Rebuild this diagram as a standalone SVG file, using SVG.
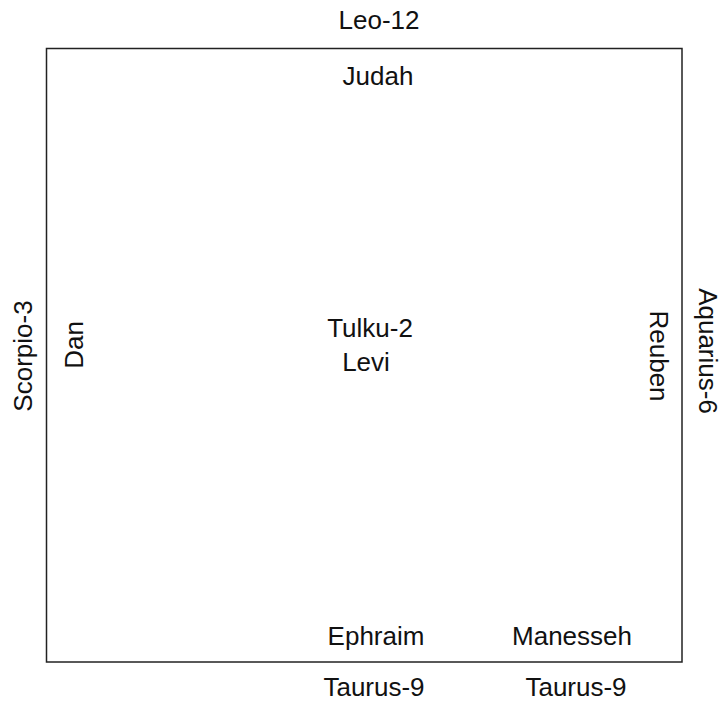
<svg xmlns="http://www.w3.org/2000/svg" width="722" height="701" viewBox="0 0 722 701">
<style>
text{font-family:"Liberation Sans",Arial,sans-serif;font-size:26px;fill:#111;text-anchor:middle}
.frame{fill:none;stroke:#222;stroke-width:1.5}
</style>
<rect width="722" height="701" fill="#fff"/>
<g id="frame"><rect class="frame" x="46.5" y="48.5" width="635.5" height="613.5"/></g>
<g id="connectors"></g>
<g id="leo"><text x="379" y="29">Leo-12</text></g>
<g id="judah"><text x="378" y="85">Judah</text></g>
<g id="tulku"><text x="370" y="337">Tulku-2</text></g>
<g id="levi"><text x="366" y="371">Levi</text></g>
<g id="ephraim"><text x="376" y="645">Ephraim</text></g>
<g id="manesseh"><text x="572" y="645">Manesseh</text></g>
<g id="taurus1"><text x="374" y="696">Taurus-9</text></g>
<g id="taurus2"><text x="576" y="696">Taurus-9</text></g>
<g id="scorpio"><text transform="translate(32,356) rotate(-90)">Scorpio-3</text></g>
<g id="dan"><text transform="translate(83,345) rotate(-90)">Dan</text></g>
<g id="reuben"><text transform="translate(650,356) rotate(90)">Reuben</text></g>
<g id="aquarius"><text transform="translate(699,351) rotate(90)">Aquarius-6</text></g>
</svg>
